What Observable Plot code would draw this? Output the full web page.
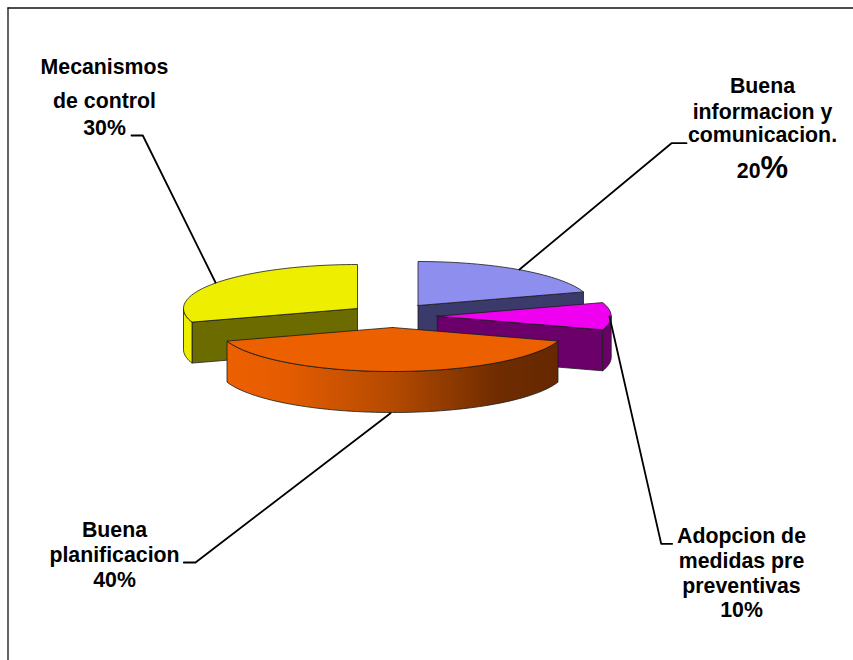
<!DOCTYPE html>
<html>
<head>
<meta charset="utf-8">
<script src="https://cdn.jsdelivr.net/npm/d3@7"></script>
<script src="https://cdn.jsdelivr.net/npm/@observablehq/plot@0.6"></script>
<style>html,body{margin:0;padding:0;background:#fff}svg{display:block}</style>
</head>
<body>
<div id="chart"></div>
<script>
// Data
const categories = ["Buena informacion y comunicacion.", "Adopcion de medidas pre preventivas", "Buena planificacion", "Mecanismos de control"];
const shares = [20, 10, 40, 30];
const labelLines = [
  ["Buena", "informacion y", "comunicacion."],
  ["Adopcion de", "medidas pre", "preventivas", "10%"],
  ["Buena", "planificacion", "40%"],
  ["Mecanismos", "de control", "30%"]
];

// Styles
const topFills = ["#8E8EEE", "#F000F0", "#ED6000", "#EEEE00"];
const radialFills = ["#3B3B6B", "#6B006B", "#662800", "#6B6B00"];
const outerFills = ["#3B3B6B", "#6B006B", "url(#orangeSide)", "#EEEE00"];

// Layout of the tilted, exploded pie
const rx = 174, ry = 44, depth = 41;
const centers = [[417.5, 305], [436.7, 315.7], [392, 327], [357, 308]];
const paintOrder = [3, 0, 1, 2]; // back slices first, the front slice last
const labelX = [762, 741, 114, 104];
const labelBaselines = [[92, 118, 141.7], [542.3, 567, 592, 616], [536, 561.7, 586], [73, 107, 134]];
const leaders = [
  [[686, 142.7], [671, 142.7], [519, 269]],
  [[671.7, 543.3], [660.7, 543.3], [609, 316]],
  [[183.3, 562], [195, 562], [390, 412.7]],
  [[131, 135], [142.3, 135], [215, 282]]
];

const total = d3.sum(shares);
const cumulative = d3.cumsum(shares);
const rad = d => d * Math.PI / 180;
const onEllipse = (c, deg, dz = 0) => ({
  x: c[0] + rx * Math.sin(rad(deg)),
  y: c[1] - ry * Math.cos(rad(deg)) + dz
});
const arc = (a0, a1, c, dz = 0) => {
  const n = Math.max(2, Math.ceil(Math.abs(a1 - a0) / 2));
  return d3.range(n + 1).map(i => onEllipse(c, a0 + (a1 - a0) * i / n, dz));
};
const closed = pts => [...pts, pts[0]];

const faces = [];
paintOrder.forEach(i => {
  const s = shares[i];
  const a0 = (cumulative[i] - s) / total * 360;
  const a1 = cumulative[i] / total * 360;
  const c = centers[i];
  const apex = {x: c[0], y: c[1]};
  const wall = deg => {
    const e = onEllipse(c, deg);
    faces.push({fill: radialFills[i], points: closed([apex, e, {x: e.x, y: e.y + depth}, {x: apex.x, y: apex.y + depth}])});
  };
  // radial walls that face the viewer
  if (a1 < 180) wall(a1);
  if (a0 > 180) wall(a0);
  // outer wall, only on the front half of the rim
  const f0 = Math.max(a0, 90), f1 = Math.min(a1, 270);
  if (f1 > f0) {
    faces.push({fill: outerFills[i], points: closed([...arc(f0, f1, c), ...arc(f1, f0, c, depth)])});
  }
  // top face
  faces.push({fill: topFills[i], points: closed([apex, ...arc(a0, a1, c)])});
});

const labelRows = labelLines.flatMap((lines, i) => lines.map((text, j) => ({text, x: labelX[i], y: labelBaselines[i][j]})));

const gradient = () => {
  const defs = d3.create("svg:defs");
  const g = defs.append("linearGradient").attr("id", "orangeSide");
  [[0, "#ED6000"], [0.18, "#E45C00"], [0.5, "#B44A00"], [0.82, "#6F2C00"], [1, "#662800"]]
    .forEach(([o, col]) => g.append("stop").attr("offset", o).attr("stop-color", col));
  return defs.node();
};

const font = {fontFamily: "'Liberation Sans', Arial, sans-serif", fontWeight: "bold", fill: "#000", lineAnchor: "bottom"};

const chart = Plot.plot({
  width: 853,
  height: 660,
  margin: 0,
  style: {background: "#fff", overflow: "hidden"},
  x: {domain: [0, 853], range: [0, 853], axis: null},
  y: {domain: [0, 660], range: [0, 660], axis: null},
  marks: [
    gradient,
    Plot.ruleX([7.5], {stroke: "#111", strokeWidth: 1.3, y1: 7.5, y2: 660}),
    Plot.ruleY([7.5], {stroke: "#111", strokeWidth: 1.3, x1: 7.5, x2: 853}),
    ...faces.map(f => Plot.line(f.points, {x: "x", y: "y", fill: f.fill, stroke: "#1a1a1a", strokeWidth: 0.8, strokeLinejoin: "round"})),
    ...leaders.map(l => Plot.line(l, {x: d => d[0], y: d => d[1], stroke: "#000", strokeWidth: 1.8})),
    Plot.text(labelRows, {x: "x", y: "y", text: "text", fontSize: 21.3, textAnchor: "middle", ...font}),
    Plot.text(["20"], {x: [760], y: [177], text: d => d, fontSize: 21.3, textAnchor: "end", ...font}),
    Plot.text(["%"], {x: [760], y: [177], text: d => d, fontSize: 31, textAnchor: "start", ...font})
  ]
});
document.getElementById("chart").append(chart);
</script>
</body>
</html>
